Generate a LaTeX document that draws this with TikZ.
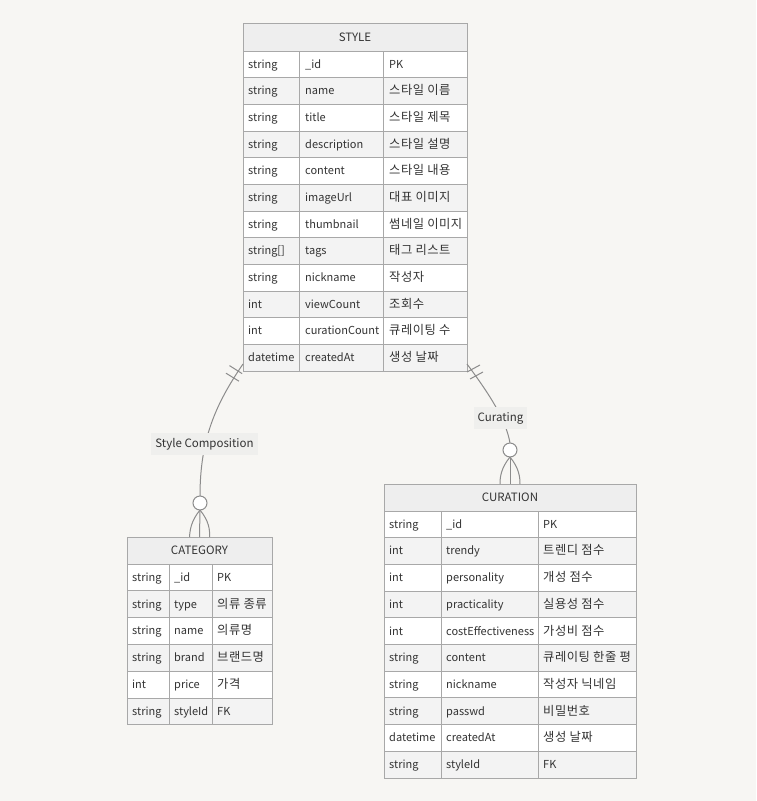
\documentclass[tikz,border=0pt]{standalone}
\usepackage{fontspec}
\setmainfont{Noto Sans CJK KR}
\newfontfamily\hangulfont[LetterSpace=4]{Noto Sans CJK KR}
\usepackage{xcolor}
\usepackage{tikz}
\definecolor{PaperWhite}{HTML}{F7F6F3}
\definecolor{CellWhite}{HTML}{FFFFFF}
\definecolor{CellGray}{HTML}{F3F3F3}
\definecolor{HeadGray}{HTML}{EEEEEE}
\definecolor{GridGray}{HTML}{A8A8A8}
\definecolor{InkGray}{HTML}{333333}
\definecolor{LinkGray}{HTML}{8C8C8C}
\definecolor{TagGray}{HTML}{EFEFED}

% key marks (PK, FK) keep the plain cell font
\newcommand{\keytext}[1]{{\normalfont\fontsize{11}{13}\selectfont #1}}

\tikzset{
  cell/.style={draw=GridGray, line width=1pt},
  celltext/.style={anchor=west, inner sep=0pt, text height=8pt, text depth=2.5pt, text=InkGray, font=\fontsize{11}{13}\selectfont},
  desctext/.style={celltext, font=\hangulfont\fontsize{12.3}{14}\selectfont},
  head/.style={draw=GridGray, fill=HeadGray, line width=1pt, inner sep=0pt, outer sep=0pt, text=InkGray, font=\fontsize{11.5}{13}\selectfont},
  link/.style={draw=LinkGray, line width=1pt},
  ring/.style={circle, draw=LinkGray, fill=CellWhite, line width=1pt, minimum size=14pt, inner sep=0pt, outer sep=0pt},
  tag/.style={fill=TagGray, text=InkGray, inner xsep=4pt, inner ysep=5pt, font=\fontsize{11.5}{13}\selectfont}
}

\begin{document}
\begin{tikzpicture}[x=1pt, y=-1pt]
    \fill[PaperWhite] (0,0) rectangle (756,801);

    % STYLE table
    \node[head, minimum width=224pt, minimum height=28pt] (style) at (355,37) {STYLE};
    \foreach \ty/\nm/\ds [count=\i] in {string/\_id/\keytext{PK}, string/name/스타일 이름, string/title/스타일 제목, string/description/스타일 설명, string/content/스타일 내용, string/imageUrl/대표 이미지, string/thumbnail/썸네일 이미지, string[]/tags/태그 리스트, string/nickname/작성자, int/viewCount/조회수, int/curationCount/큐레이팅 수, datetime/createdAt/생성 날짜} {
        \pgfmathsetmacro{\yt}{51+(\i-1)*26.67}
        \pgfmathsetmacro{\yb}{\yt+26.67}
        \pgfmathsetmacro{\ym}{\yt+14.5}
        \ifodd\i\relax \def\rowfill{CellWhite}\else \def\rowfill{CellGray}\fi
        \draw[cell, fill=\rowfill] (243,\yt) rectangle (299,\yb);
        \draw[cell, fill=\rowfill] (299,\yt) rectangle (383,\yb);
        \draw[cell, fill=\rowfill] (383,\yt) rectangle (467,\yb);
        \node[celltext] (style-type-\i) at (248,\ym) {\ty};
        \node[celltext] (style-name-\i) at (305,\ym) {\nm};
        \node[desctext] (style-desc-\i) at (389,\ym) {\ds};
    }
    \coordinate (style-sw) at (243,364);
    \coordinate (style-se) at (467,364);

    % CATEGORY table
    \node[head, minimum width=145pt, minimum height=27pt] (category) at (199.5,550.5) {CATEGORY};
    \foreach \ty/\nm/\ds [count=\i] in {string/\_id/\keytext{PK}, string/type/의류 종류, string/name/의류명, string/brand/브랜드명, int/price/가격, string/styleId/\keytext{FK}} {
        \pgfmathsetmacro{\yt}{564+(\i-1)*26.83}
        \pgfmathsetmacro{\yb}{\yt+26.83}
        \pgfmathsetmacro{\ym}{\yt+14.5}
        \ifodd\i\relax \def\rowfill{CellWhite}\else \def\rowfill{CellGray}\fi
        \draw[cell, fill=\rowfill] (127,\yt) rectangle (169,\yb);
        \draw[cell, fill=\rowfill] (169,\yt) rectangle (212,\yb);
        \draw[cell, fill=\rowfill] (212,\yt) rectangle (272,\yb);
        \node[celltext] (category-type-\i) at (132,\ym) {\ty};
        \node[celltext] (category-name-\i) at (174,\ym) {\nm};
        \node[desctext] (category-desc-\i) at (217,\ym) {\ds};
    }

    % CURATION table
    \node[head, minimum width=252pt, minimum height=27pt] (curation) at (510,497.5) {CURATION};
    \foreach \ty/\nm/\ds [count=\i] in {string/\_id/\keytext{PK}, int/trendy/트렌디 점수, int/personality/개성 점수, int/practicality/실용성 점수, int/costEffectiveness/가성비 점수, string/content/큐레이팅 한줄 평, string/nickname/작성자 닉네임, string/passwd/비밀번호, datetime/createdAt/생성 날짜, string/styleId/\keytext{FK}} {
        \pgfmathsetmacro{\yt}{511+(\i-1)*26.7}
        \pgfmathsetmacro{\yb}{\yt+26.7}
        \pgfmathsetmacro{\ym}{\yt+14.5}
        \ifodd\i\relax \def\rowfill{CellWhite}\else \def\rowfill{CellGray}\fi
        \draw[cell, fill=\rowfill] (384,\yt) rectangle (441,\yb);
        \draw[cell, fill=\rowfill] (441,\yt) rectangle (538,\yb);
        \draw[cell, fill=\rowfill] (538,\yt) rectangle (636,\yb);
        \node[celltext] (curation-type-\i) at (389,\ym) {\ty};
        \node[celltext] (curation-name-\i) at (446,\ym) {\nm};
        \node[desctext] (curation-desc-\i) at (543,\ym) {\ds};
    }

    % Style Composition: one style, many categories
    \node[ring] (comp-ring) at (200,503) {};
    \draw[link] (style-sw) .. controls (215,405) and (200,440) .. (comp-ring.north);
    \draw[link] (229.5,365.6) -- (242.1,373.6);
    \draw[link] (226.0,373.2) -- (239.0,381.2);
    \draw[link] (comp-ring.south) -- (category.north);
    \draw[link] (comp-ring.south) .. controls (191,521) and (190,530) .. ([xshift=-10pt]category.north);
    \draw[link] (comp-ring.south) .. controls (209,521) and (210,530) .. ([xshift=10pt]category.north);
    \node[tag] (comp-label) at (204.5,444) {Style Composition};

    % Curating: one style, many curations
    \node[ring] (cur-ring) at (510,450) {};
    \draw[link] (style-se) .. controls (490,395) and (506,420) .. (cur-ring.north);
    \draw[link] (467.0,372.0) -- (480.0,365.0);
    \draw[link] (470.0,379.0) -- (483.0,372.0);
    \draw[link] (cur-ring.south) -- (curation.north);
    \draw[link] (cur-ring.south) .. controls (501,468) and (500,477) .. ([xshift=-10pt]curation.north);
    \draw[link] (cur-ring.south) .. controls (519,468) and (520,477) .. ([xshift=10pt]curation.north);
    \node[tag] (cur-label) at (500.5,418) {Curating};
\end{tikzpicture}
\end{document}
